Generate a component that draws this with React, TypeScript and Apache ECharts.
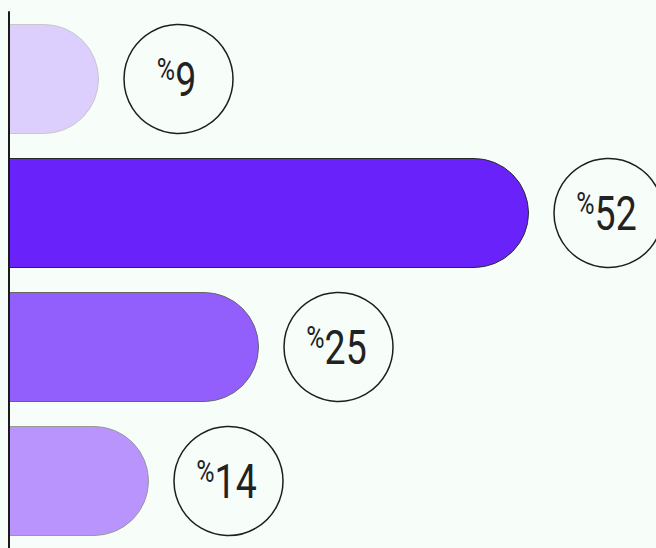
import React, { useEffect, useRef } from "react";
import * as echarts from "echarts";

const categories = ["Option A", "Option B", "Option C", "Option D"];
const values = [9, 52, 25, 14];
const barColors = ["#dccffd", "#6a22fa", "#935ffc", "#b894fc"];
const barBorders = ["#c8c8c8", "#2a2a2a", "#666666", "#999999"];

const FONT = "Roboto, 'Liberation Sans', sans-serif";

export default function App() {
  const ref = useRef<HTMLDivElement>(null);
  useEffect(() => {
    if (!ref.current) return;
    const chart = echarts.init(ref.current, undefined, { renderer: "svg" });
    chart.setOption({
      animation: false,
      backgroundColor: "#f7fdf9",
      grid: { left: 9, right: 47, top: 12, bottom: -2, containLabel: false },
      xAxis: { type: "value", min: 0, max: 60, show: false },
      yAxis: {
        type: "category",
        data: categories,
        inverse: true,
        z: 10,
        axisLine: { show: true, lineStyle: { color: "#1a1a1a", width: 2 } },
        axisTick: { show: false },
        axisLabel: { show: false },
        splitLine: { show: false },
      },
      series: [
        {
          type: "bar",
          barWidth: 110,
          data: values.map((v, i) => ({
            value: v,
            itemStyle: {
              color: barColors[i],
              borderColor: barBorders[i],
              borderWidth: 1,
              borderRadius: [0, 55, 55, 0],
            },
          })),
        },
        {
          type: "custom",
          clip: false,
          data: values.map((v, i) => [v, i]),
          renderItem: (params: any, api: any) => {
            const p = api.coord([api.value(0), api.value(1)]);
            const cx = p[0] + 79.5;
            const cy = p[1];
            const v = api.value(0);
            return {
              type: "group",
              children: [
                {
                  type: "circle",
                  shape: { cx, cy, r: 54.5 },
                  style: { fill: "transparent", stroke: "#1e1e1e", lineWidth: 1.5 },
                },
                {
                  type: "text",
                  x: cx - 2,
                  y: cy + 1,
                  scaleX: 0.78,
                  style: {
                    text: "{p|%}{n|" + v + "}",
                    align: "center",
                    verticalAlign: "middle",
                    fill: "#222222",
                    rich: {
                      p: { fontSize: 32, fontFamily: FONT, verticalAlign: "top", fill: "#222222" },
                      n: { fontSize: 48, lineHeight: 54, fontFamily: FONT, fill: "#222222" },
                    },
                  },
                },
              ],
            };
          },
        },
      ],
    });
    return () => chart.dispose();
  }, []);
  return (
    <div
      ref={ref}
      style={{ position: "fixed", left: 0, top: 0, width: 656, height: 548 }}
    />
  );
}
